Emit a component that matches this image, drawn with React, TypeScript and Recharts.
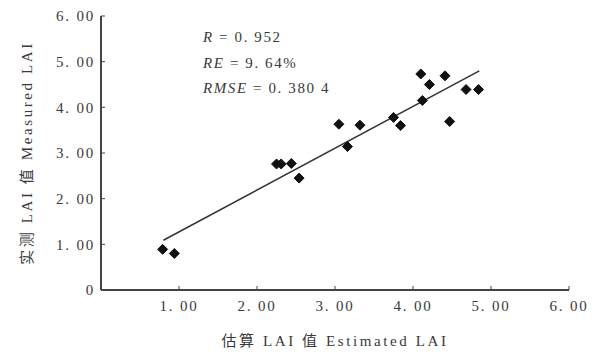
import React from 'react';
import { ScatterChart, Scatter, XAxis, YAxis, Customized } from 'recharts';

const estimatedLAI = [0.79, 0.94, 2.25, 2.31, 2.44, 2.54, 3.05, 3.16, 3.32, 3.75, 3.84, 4.10, 4.12, 4.21, 4.41, 4.47, 4.68, 4.84];
const measuredLAI = [0.89, 0.80, 2.76, 2.76, 2.77, 2.45, 3.63, 3.14, 3.61, 3.78, 3.60, 4.73, 4.15, 4.50, 4.69, 3.69, 4.39, 4.39];
const fitX = [0.80, 4.85];
const fitY = [1.09, 4.80];
const ticks = [0, 1, 2, 3, 4, 5, 6];
const statLines = [
  { name: 'R', value: ' = 0. 952' },
  { name: 'RE', value: ' = 9. 64%' },
  { name: 'RMSE', value: ' = 0. 380 4' },
];

const points = estimatedLAI.map((x, i) => ({ x, y: measuredLAI[i] }));
const fitLine = fitX.map((x, i) => ({ x, y: fitY[i] }));

const FONT = "'Liberation Serif', 'Noto Sans CJK SC', serif";
const TEXT = '#3a3a3a';
const AXIS = '#444';

const fmt = (v: number) => (v === 0 ? '0' : v.toFixed(2).replace('.', '. '));

const Diamond = (props: any) => {
  const { cx, cy } = props;
  if (cx == null || cy == null) return null;
  const r = 5;
  return (
    <polygon
      points={`${cx},${cy - r} ${cx + r},${cy} ${cx},${cy + r} ${cx - r},${cy}`}
      fill="#111"
      stroke="#111"
      strokeWidth={1}
    />
  );
};

const Stats = () => (
  <g fontFamily={FONT} fontSize={15} fill={TEXT} style={{ letterSpacing: '1.6px' }}>
    {statLines.map((s, i) => (
      <text key={s.name} x={203} y={42 + i * 25.5}>
        <tspan fontStyle="italic">{s.name}</tspan>
        <tspan>{s.value}</tspan>
      </text>
    ))}
  </g>
);

export default function App() {
  return (
    <div style={{ position: 'absolute', left: 0, top: 0, background: '#fff' }}>
      <ScatterChart
        width={603}
        height={355}
        margin={{ top: 16, right: 34, bottom: 35, left: 0 }}
      >
        <XAxis
          type="number"
          dataKey="x"
          domain={[0, 6]}
          ticks={ticks}
          tickFormatter={(v: number) => (v === 0 ? '' : fmt(v))}
          height={30}
          axisLine={{ stroke: AXIS, strokeWidth: 2 }}
          tickLine={{ stroke: AXIS }}
          tickSize={-4}
          tickMargin={14}
          tick={{ fill: TEXT, fontSize: 15, fontFamily: FONT, style: { letterSpacing: '1.8px' } }}
          label={{
            value: '估算 LAI 值 Estimated LAI',
            position: 'bottom',
            offset: 15,
            fill: TEXT,
            fontSize: 15,
            fontFamily: FONT,
            style: { letterSpacing: '2.6px' },
          }}
        />
        <YAxis
          type="number"
          dataKey="y"
          domain={[0, 6]}
          ticks={ticks}
          tickFormatter={fmt}
          width={101}
          axisLine={{ stroke: AXIS, strokeWidth: 2 }}
          tickLine={{ stroke: AXIS }}
          tickSize={-4}
          tickMargin={10}
          tick={{ fill: TEXT, fontSize: 15, fontFamily: FONT, style: { letterSpacing: '1.8px' } }}
          label={{
            value: '实测 LAI 值 Measured LAI',
            angle: -90,
            position: 'insideLeft',
            offset: 27,
            fill: TEXT,
            fontSize: 15,
            fontFamily: FONT,
            style: { textAnchor: 'middle', letterSpacing: '2.6px' },
          }}
        />
        <Scatter
          data={fitLine}
          line={{ stroke: '#333', strokeWidth: 1.5 }}
          shape={() => null}
          isAnimationActive={false}
        />
        <Scatter data={points} shape={Diamond} isAnimationActive={false} />
        <Customized component={Stats} />
      </ScatterChart>
    </div>
  );
}
